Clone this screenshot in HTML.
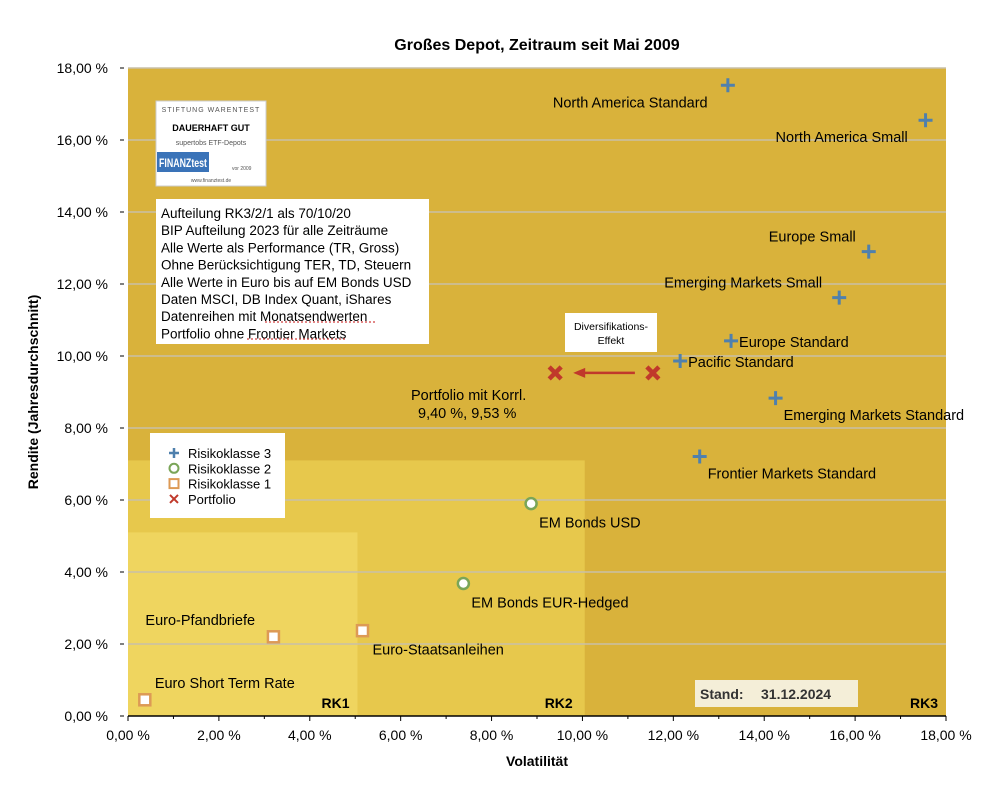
<!DOCTYPE html>
<html><head><meta charset="utf-8"><style>
body{margin:0;background:#fff;font-family:"Liberation Sans",sans-serif}
svg text{font-family:"Liberation Sans",sans-serif}
</style></head><body>
<svg id="c" width="1000" height="801" viewBox="0 0 1000 801">
<text x="537" y="50" text-anchor="middle" font-size="16" font-weight="bold">Großes Depot, Zeitraum seit Mai 2009</text>
<g id="plot"></g>
</svg>
<script>
const names=["North America Standard","North America Small","Europe Small","Emerging Markets Small","Europe Standard","Pacific Standard","Emerging Markets Standard","Frontier Markets Standard","EM Bonds USD","EM Bonds EUR-Hedged","Euro-Pfandbriefe","Euro-Staatsanleihen","Euro Short Term Rate"];
const vol=[13.2,17.55,16.3,15.65,13.27,12.15,14.25,12.58,8.87,7.38,3.2,5.16,0.37];
const ret=[17.52,16.55,12.9,11.62,10.42,9.86,8.83,7.21,5.9,3.68,2.2,2.37,0.45];
const klass=[3,3,3,3,3,3,3,3,2,2,1,1,1];
const portVol=[9.4,11.55];
const portRet=[9.53,9.53];
const xTicks=[0,2,4,6,8,10,12,14,16,18];
const yTicks=[0,2,4,6,8,10,12,14,16,18];
const labelOff=[[-175,22],[-150,22],[-100,-10],[-175,-10],[8,6],[8,6],[8,22],[8,22],[8,24],[8,24],[-128,-12],[10,24],[10,-12]];
const X0=128,X1=946,Y0=716,Y1=68;
const sx=v=>X0+(v/18)*(X1-X0), sy=v=>Y0-(v/18)*(Y0-Y1);
const g=document.getElementById('plot');const NS='http://www.w3.org/2000/svg';
function el(t,a,p){const e=document.createElementNS(NS,t);for(const k in a)e.setAttribute(k,a[k]);(p||g).appendChild(e);return e;}
let e;
e=el('rect',{x:X0,y:Y1,width:X1-X0,height:Y0-Y1,fill:'#d9b23b'});


e=el('rect',{x:X0,y:sy(7.1),width:sx(10.05)-X0,height:Y0-sy(7.1),fill:'#e7c84c'});


e=el('rect',{x:X0,y:sy(5.1),width:sx(5.05)-X0,height:Y0-sy(5.1),fill:'#efd55f'});


yTicks.forEach(v=>{
 if(v>0){e=el('line',{x1:X0,x2:X1,y1:sy(v),y2:sy(v),stroke:'#c9c0a8','stroke-width':1.5});
 
 }
 el('line',{x1:X0-8,x2:X0-4,y1:sy(v),y2:sy(v),stroke:'#000'});
 e=el('text',{x:108,y:sy(v)+5,'text-anchor':'end','font-size':14});e.textContent=v.toFixed(2).replace('.',',')+' %';
 
 
});
el('line',{x1:X0,x2:X1,y1:Y0,y2:Y0,stroke:'#000','stroke-width':1.5});
for(let i=0;i<=18;i++)el('line',{x1:sx(i),x2:sx(i),y1:Y0,y2:Y0+(i%2?3:5),stroke:'#000'});
xTicks.forEach(v=>{e=el('text',{x:sx(v),y:740,'text-anchor':'middle','font-size':14});e.textContent=v.toFixed(2).replace('.',',')+' %';
 
 });
e=el('text',{x:537,y:766,'text-anchor':'middle','font-size':14,'font-weight':'bold'});e.textContent='Volatilität';


e=el('text',{x:0,y:0,'text-anchor':'middle','font-size':14,'font-weight':'bold',transform:'translate(38,392) rotate(-90)'});e.textContent='Rendite (Jahresdurchschnitt)';


[['RK1',sx(5.05)-8],['RK2',sx(10.05)-12],['RK3',X1-8]].forEach(([t,x])=>{e=el('text',{x:x,y:708,'text-anchor':'end','font-size':14,'font-weight':'bold'});e.textContent=t;
 
 });
// badge
e=el('rect',{x:156,y:101,width:110,height:85,fill:'#fff',stroke:'#ccc'});


e=el('text',{x:211,y:112,'text-anchor':'middle','font-size':7,fill:'#555','letter-spacing':1});e.textContent='STIFTUNG WARENTEST';
e=el('text',{x:211,y:131,'text-anchor':'middle','font-size':9,'font-weight':'bold'});e.textContent='DAUERHAFT GUT';
e=el('text',{x:211,y:145,'text-anchor':'middle','font-size':7,fill:'#555'});e.textContent='supertobs ETF-Depots';
e=el('rect',{x:157,y:152,width:52,height:20,fill:'#3a73b8'});
e=el('text',{x:159,y:167,'font-size':12,'font-weight':'bold',fill:'#fff',textLength:48,lengthAdjust:'spacingAndGlyphs'});e.textContent='FINANZtest';
e=el('text',{x:232,y:170,'font-size':5,fill:'#555'});e.textContent='vor 2009';
e=el('text',{x:211,y:182,'text-anchor':'middle','font-size':5,fill:'#555'});e.textContent='www.finanztest.de';
// notes box
e=el('rect',{x:156,y:199,width:273,height:145,fill:'#fff'});


["Aufteilung RK3/2/1 als 70/10/20","BIP Aufteilung 2023 für alle Zeiträume","Alle Werte als Performance (TR, Gross)","Ohne Berücksichtigung TER, TD, Steuern","Alle Werte in Euro bis auf EM Bonds USD","Daten MSCI, DB Index Quant, iShares","Datenreihen mit Monatsendwerten","Portfolio ohne Frontier Markets"].forEach((t,i)=>{e=el('text',{x:161,y:218+i*17.2,'font-size':13.5});e.textContent=t;});
el('line',{x1:265,x2:375,y1:322,y2:322,stroke:'#d04040','stroke-width':1.2,'stroke-dasharray':'2 2'});
el('line',{x1:247,x2:347,y1:339,y2:339,stroke:'#d04040','stroke-width':1.2,'stroke-dasharray':'2 2'});
// legend
e=el('rect',{x:150,y:433,width:135,height:85,fill:'#fff'});


const ly=i=>453+i*15.3;
el('path',{d:`M169 ${ly(0)}h10M174 ${ly(0)-5}v10`,stroke:'#4f80ad','stroke-width':2.5});
el('circle',{cx:174,cy:ly(1),r:4.5,fill:'none',stroke:'#7aa558','stroke-width':2});
el('rect',{x:169.5,y:ly(2)-4.5,width:9,height:9,fill:'none',stroke:'#dd9a55','stroke-width':2});
el('path',{d:`M170 ${ly(3)-4}l8 8M178 ${ly(3)-4}l-8 8`,stroke:'#c0392b','stroke-width':2});
['Risikoklasse 3','Risikoklasse 2','Risikoklasse 1','Portfolio'].forEach((t,i)=>{
 e=el('text',{x:188,y:ly(i)+5,'font-size':13});e.textContent=t;
 
 
});
// diversification box
e=el('rect',{x:565,y:313,width:92,height:39,fill:'#fff'});


e=el('text',{x:611,y:330,'text-anchor':'middle','font-size':10.5});e.textContent='Diversifikations-';
e=el('text',{x:611,y:344,'text-anchor':'middle','font-size':10.5});e.textContent='Effekt';
// points
names.forEach((n,i)=>{
 const x=sx(vol[i]),y=sy(ret[i]);let m;
 if(klass[i]===3){m=el('path',{d:`M${x-7} ${y}H${x+7}M${x} ${y-7}V${y+7}`,stroke:'#4f80ad','stroke-width':3});}
 else if(klass[i]===2){m=el('circle',{cx:x,cy:y,r:5.5,fill:'#fff',stroke:'#7aa558','stroke-width':2.5});}
 else{m=el('rect',{x:x-5.5,y:y-5.5,width:11,height:11,fill:'#fff',stroke:'#dd9a55','stroke-width':2.5});}
 
 
 const t=el('text',{x:x+labelOff[i][0],y:y+labelOff[i][1],'font-size':14.5});t.textContent=n;
 
 
});
portVol.forEach((v,i)=>{const x=sx(v),y=sy(portRet[i]);
 e=el('path',{d:`M${x-6} ${y-6}L${x+6} ${y+6}M${x+6} ${y-6}L${x-6} ${y+6}`,stroke:'#c0392b','stroke-width':4.5});
 
 });
const ay=sy(portRet[0]);
e=el('line',{x1:sx(portVol[1])-18,x2:sx(portVol[0])+28,y1:ay,y2:ay,stroke:'#c0392b','stroke-width':2.5});


el('path',{d:`M${sx(portVol[0])+18} ${ay}l12 -5v10z`,fill:'#c0392b'});
e=el('text',{x:411,y:400,'font-size':14.5});e.textContent='Portfolio mit Korrl.';


e=el('text',{x:418,y:418,'font-size':14.5});e.textContent='9,40 %, 9,53 %';
// stand box
e=el('rect',{x:695,y:680,width:163,height:27,fill:'#f4eed8'});


e=el('text',{x:700,y:699,'font-size':14,'font-weight':'bold',fill:'#333'});e.textContent='Stand:';
e=el('text',{x:761,y:699,'font-size':14,'font-weight':'bold',fill:'#333'});e.textContent='31.12.2024';
</script>
</body></html>
